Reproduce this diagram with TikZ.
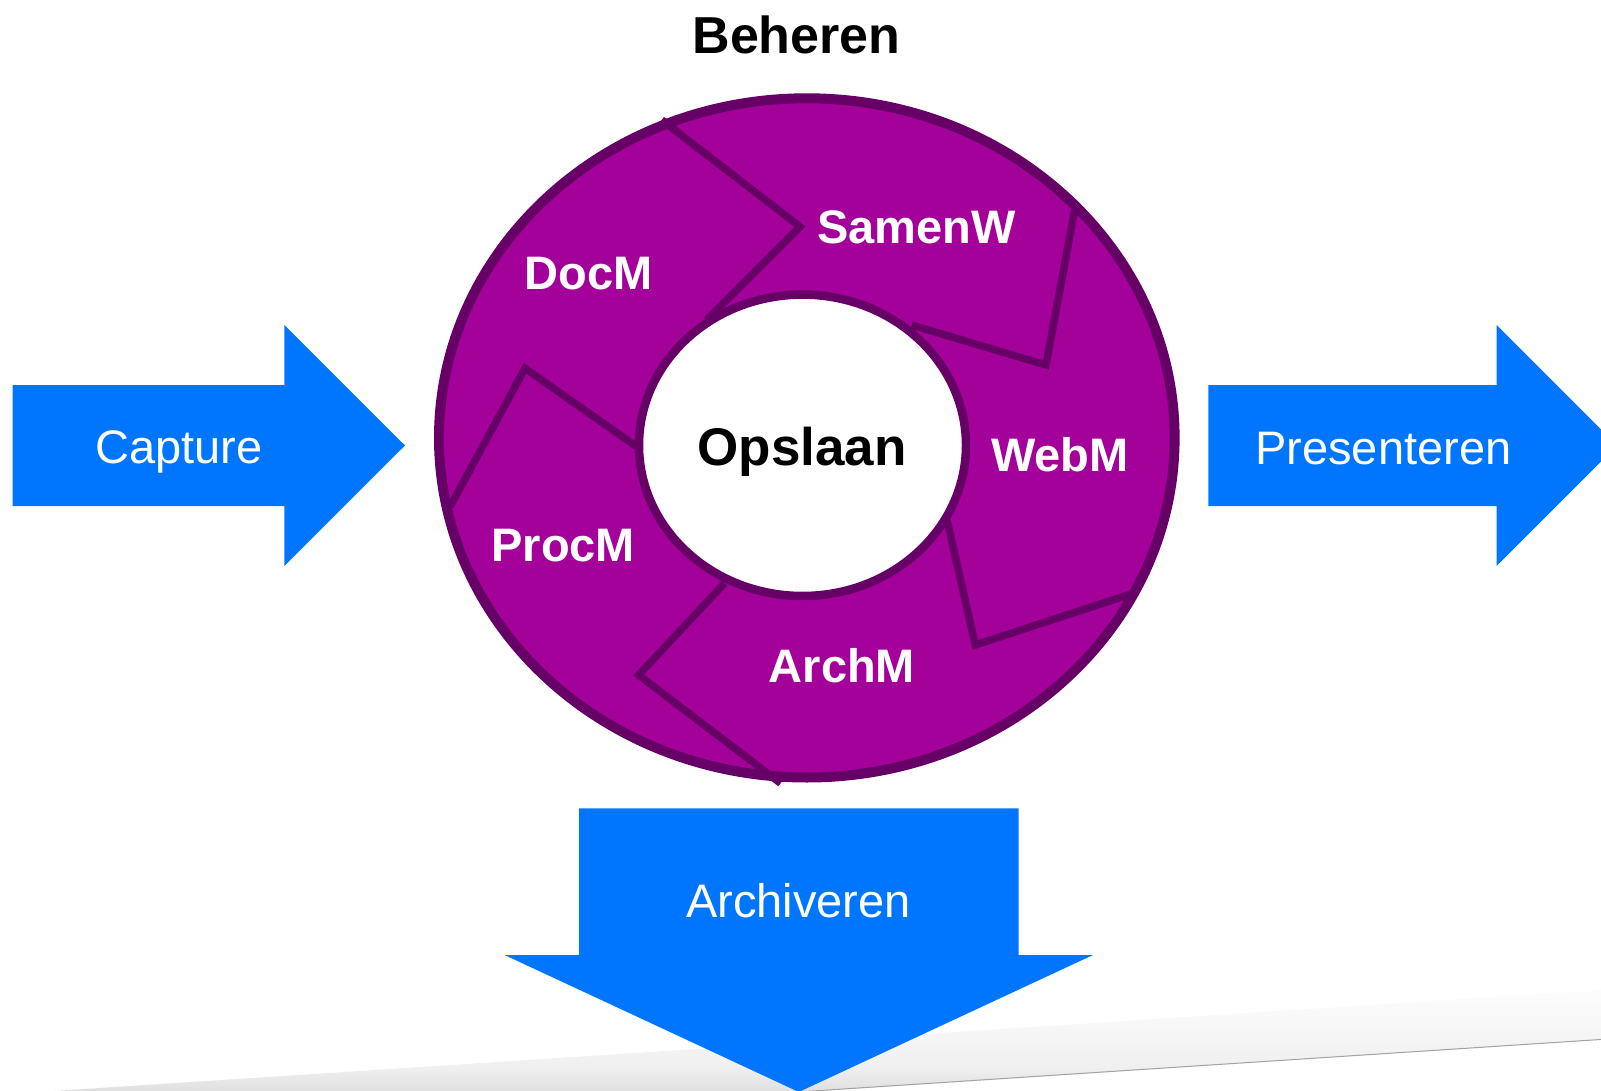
\documentclass[tikz,border=0pt]{standalone}
\usepackage{fontspec}
\setmainfont{Liberation Sans}
\definecolor{ringfill}{RGB}{164,0,154}
\definecolor{ringline}{RGB}{102,0,102}
\definecolor{arrowblue}{RGB}{0,118,255}
\begin{document}
\begin{tikzpicture}[x=1pt,y=-1pt,
  lbl/.style={text=white, font=\bfseries\fontsize{47}{56}\selectfont, anchor=base, inner sep=0pt},
  arrowtxt/.style={text=white, font=\fontsize{47}{56}\selectfont, anchor=base, inner sep=0pt},
  blk/.style={text=black, font=\bfseries\fontsize{52}{62}\selectfont, anchor=base, inner sep=0pt},
  chev/.style={draw=ringline, line width=7.5pt, line join=miter},
  arr/.style={fill=arrowblue}]
\useasboundingbox (0,0) rectangle (1601,1091);
\clip (0,0) rectangle (1601,1091);
\fill[white] (0,0) rectangle (1601,1091);

% page shadow at the bottom
\begin{scope}[shift={(1100,1072.7)}, rotate=3.74]
  \shade[top color=white, bottom color=black!30, middle color=black!6] (-1300,-50) rectangle (700,0);
  \draw[black!36, line width=1pt] (-1300,-0.5) -- (700,-0.5);
\end{scope}

% blue arrows
\fill[arr] (12.7,385) -- (284.3,385) -- (284.3,325) -- (405,445.5) -- (284.3,566) -- (284.3,506) -- (12.7,506) -- cycle;
\fill[arr] (1208.3,385) -- (1496.7,385) -- (1496.7,325) -- (1617.2,445.5) -- (1496.7,566) -- (1496.7,506) -- (1208.3,506) -- cycle;
\fill[arr] (579,808.3) -- (1018.7,808.3) -- (1018.7,955) -- (1093,955) -- (798.8,1092) -- (504.6,955) -- (579,955) -- cycle;

% ring
\path[fill=ringfill, draw=ringline, line width=10pt] (806.8,437.9) ellipse [x radius=367.8pt, y radius=339.6pt];
\draw[chev] (661.7,120) -- (800,226.7) -- (706.7,320);
\draw[chev] (1075,208.3) -- (1046,365) -- (911.7,325);
\draw[chev] (1133,593.3) -- (975.3,645) -- (947,520);
\draw[chev] (780.6,783.3) -- (638.6,675) -- (724.5,583.3);
\draw[chev] (450,506.7) -- (525,368.3) -- (636.7,446.7);
\path[fill=white, draw=ringline, line width=8.5pt] (802.5,445.3) ellipse [x radius=163.5pt, y radius=150.7pt];

% texts
\node[blk] (beheren) at (796.5,53.3) {Beheren};
\node[blk, font=\bfseries\fontsize{53}{63}\selectfont] (opslaan) at (802.2,465.7) {Opslaan};
\node[lbl] (docm) at (588.5,290) {DocM};
\node[lbl] (samenw) at (916.5,243.3) {SamenW};
\node[lbl] (webm) at (1059.8,471.7) {WebM};
\node[lbl] (procm) at (563.3,561.7) {ProcM};
\node[lbl] (archm) at (842,682.7) {ArchM};
\node[arrowtxt] (capture) at (178.7,463.5) {Capture};
\node[arrowtxt] (presenteren) at (1383.3,464) {Presenteren};
\node[arrowtxt] (archiveren) at (798.4,917.3) {Archiveren};
\end{tikzpicture}
\end{document}
